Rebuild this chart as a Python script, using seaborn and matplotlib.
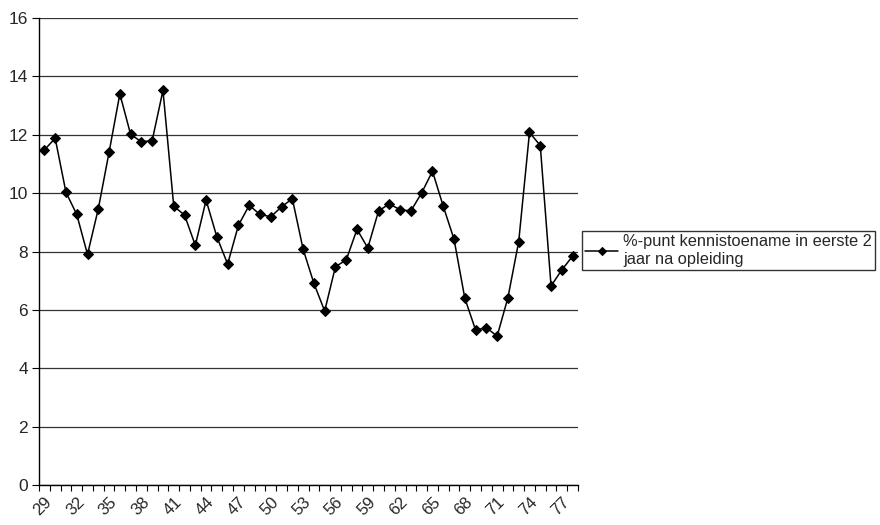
import matplotlib
matplotlib.use("Agg")
import matplotlib.pyplot as plt
import seaborn as sns
import numpy as np
import pandas as pd
from matplotlib.ticker import FixedLocator, NullFormatter
from matplotlib.transforms import ScaledTranslation

categories = list(range(29, 79))
values = [11.48, 11.88, 10.03, 9.27, 7.90, 9.46, 11.40, 13.40, 12.01, 11.76,
          11.80, 13.52, 9.55, 9.25, 8.21, 9.76, 8.50, 7.57, 8.90, 9.58,
          9.27, 9.19, 9.53, 9.81, 8.08, 6.91, 5.96, 7.48, 7.71, 8.76,
          8.12, 9.39, 9.63, 9.43, 9.39, 10.01, 10.75, 9.55, 8.42, 6.40,
          5.31, 5.39, 5.10, 6.42, 8.34, 12.08, 11.63, 6.82, 7.37, 7.84]
series_label = "%-punt kennistoename in eerste 2\njaar na opleiding"
yticks = [0, 2, 4, 6, 8, 10, 12, 14, 16]

sns.set_style("white")
plt.rcParams['font.family'] = ['Liberation Sans', 'DejaVu Sans']

df = pd.DataFrame({"pos": np.arange(len(categories)), "val": values})

fig = plt.figure(figsize=(8.8, 5.25), dpi=100)
ax = fig.add_axes([39/880, 40/525, 539/880, 467/525])

sns.lineplot(data=df, x="pos", y="val", ax=ax, color="black", linewidth=1.1,
             marker="D", markersize=5.5, markeredgecolor="black",
             markerfacecolor="black", label=series_label, legend=False)

ax.set_xlim(-0.5, len(categories) - 0.5)
ax.set_ylim(0, 16)
ax.set_yticks(yticks)
ax.set_yticklabels([str(t) for t in yticks], fontsize=12.5)
ax.yaxis.grid(True, color="#333333", linewidth=0.9)
ax.set_axisbelow(True)

label_pos = list(range(0, len(categories), 3))
ax.set_xticks(label_pos)
ax.set_xticklabels([str(categories[i]) for i in label_pos], fontsize=12,
                   rotation=45, ha="right", va="top", rotation_mode="anchor")
offset = ScaledTranslation(8/100, 0, fig.dpi_scale_trans)
for lbl in ax.get_xticklabels():
    lbl.set_transform(lbl.get_transform() + offset)
ax.tick_params(axis="x", which="major", length=0, pad=7, bottom=True)
ax.xaxis.set_minor_locator(FixedLocator(np.arange(-0.5, len(categories), 1.0)))
ax.xaxis.set_minor_formatter(NullFormatter())
ax.tick_params(axis="x", which="minor", length=4, width=0.8, color="black",
               direction="out", bottom=True)
ax.tick_params(axis="y", which="major", length=5, width=0.8, color="black",
               direction="out", pad=3, left=True)

for s in ["top", "right"]:
    ax.spines[s].set_visible(False)
for s in ["left", "bottom"]:
    ax.spines[s].set_color("black")
    ax.spines[s].set_linewidth(1.0)

ax.set_xlabel("")
ax.set_ylabel("")

handles, labels = ax.get_legend_handles_labels()
leg = fig.legend(handles, labels, loc="upper left",
                 bbox_to_anchor=(582/880, 1 - 231/525), fontsize=11.8,
                 frameon=True, fancybox=False, shadow=False,
                 handlelength=2.0, handletextpad=0.3, borderpad=0.2,
                 borderaxespad=0, labelspacing=0.2)
leg.get_frame().set_edgecolor("black")
leg.get_frame().set_linewidth(1.0)
for line in leg.get_lines():
    line.set_markersize(4)

fig.savefig("out.png", dpi=100)
